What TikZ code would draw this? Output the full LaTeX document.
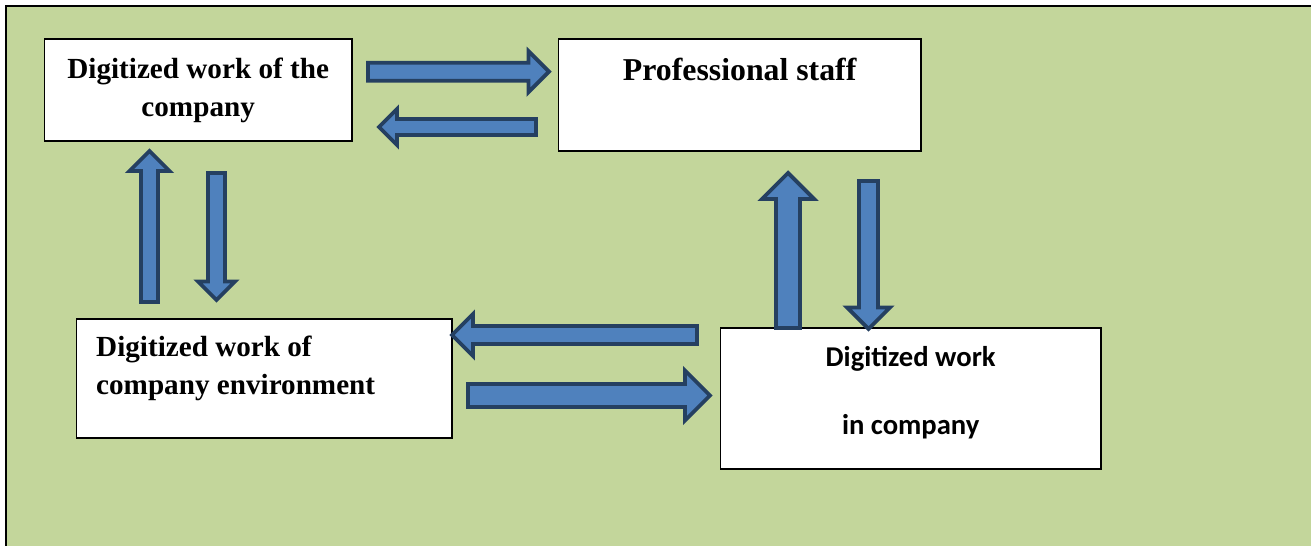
\documentclass[tikz,border=0pt]{standalone}
\usepackage{fontspec}
\setmainfont{Liberation Serif}
\newfontfamily\calibrifont{Carlito}
\usetikzlibrary{calc}
\definecolor{pagegreen}{RGB}{195,214,155}
\definecolor{arrowblue}{RGB}{79,129,189}
\definecolor{arrowdark}{RGB}{37,64,97}
\newcommand\wsp{\spaceskip=0.25em\relax}

\begin{document}
\begin{tikzpicture}[x=0.02cm, y=-0.02cm,
  box/.style={draw=black, fill=white, line width=0.8pt, anchor=north west, inner ysep=0pt},
  serif/.style={font=\bfseries\fontsize{16.6}{21.5}\selectfont},
  barrow/.style 2 args={draw=arrowdark, fill=arrowblue, line width=2.2pt,
    to path={($(\tikztotarget)!#2*0.02cm!(\tikztostart)$) coordinate (hb)
      ($(\tikztostart)!#1*0.02cm!90:(\tikztotarget)$)
      -- ($(hb)!#1*0.02cm!90:(\tikztotarget)$)
      -- ($(hb)!#2*0.02cm!90:(\tikztotarget)$)
      -- (\tikztotarget)
      -- ($(hb)!#2*0.02cm!-90:(\tikztotarget)$)
      -- ($(hb)!#1*0.02cm!-90:(\tikztotarget)$)
      -- ($(\tikztostart)!#1*0.02cm!-90:(\tikztotarget)$)
      -- cycle}}]
\useasboundingbox (0,0) rectangle (1311,546);
\fill[white] (0,0) rectangle (1311,546);
\fill[pagegreen] (6,6) rectangle (1311,546);
\draw[line width=1.4pt] (6,546) -- (6,6) -- (1311,6);

\node[box, serif, minimum width=6.16cm, minimum height=2.04cm, text width=5.9cm, inner xsep=0.1cm, align=center] (company) at (43.5,38.5) {\wsp Digitized work of the\\company};
\node[box, font=\bfseries\fontsize{18.1}{22}\selectfont, minimum width=7.26cm, minimum height=2.24cm, text depth=30pt] (staff) at (557.5,38.5) {Professional staff};
\node[box, serif, minimum width=7.52cm, minimum height=2.38cm, text width=6.72cm, inner xsep=0.39cm, align=left] (environ) at (75.5,318.5) {\wsp Digitized work of\\company environment\rule[-14.9pt]{0pt}{1pt}};
\node[box, font=\calibrifont\bfseries\fontsize{16.3}{19.25}\selectfont, minimum width=7.62cm, minimum height=2.82cm, align=center, text depth=9.3pt] (incomp) at (719.5,327.5) {Digitized work\\[19.25pt]in company};

% arrow ends
\coordinate (cs-a) at (368,71.7);   \coordinate (cs-b) at (549,71.7);
\coordinate (sc-a) at (536,127);    \coordinate (sc-b) at (379,127);
\coordinate (ec-a) at (149.5,302);  \coordinate (ec-b) at (149.5,151);
\coordinate (ce-a) at (216.5,173);  \coordinate (ce-b) at (216.5,300);
\coordinate (is-a) at (788,328);    \coordinate (is-b) at (788,173);
\coordinate (si-a) at (868.5,181);  \coordinate (si-b) at (868.5,329);
\coordinate (ie-a) at (697,335);    \coordinate (ie-b) at (452,335);
\coordinate (ei-a) at (468,395.5);  \coordinate (ei-b) at (710,395.5);

\draw[barrow={9}{20.5}] (cs-a) to (cs-b);
\draw[barrow={8}{18}] (sc-a) to (sc-b);
\draw[barrow={8.5}{20}] (ec-a) to (ec-b);
\draw[barrow={8.5}{18.5}] (ce-a) to (ce-b);
\draw[barrow={12}{26}] (is-a) to (is-b);
\draw[barrow={9.5}{21.5}] (si-a) to (si-b);
\draw[barrow={9}{21}] (ie-a) to (ie-b);
\draw[barrow={11.5}{25}] (ei-a) to (ei-b);
\end{tikzpicture}
\end{document}
